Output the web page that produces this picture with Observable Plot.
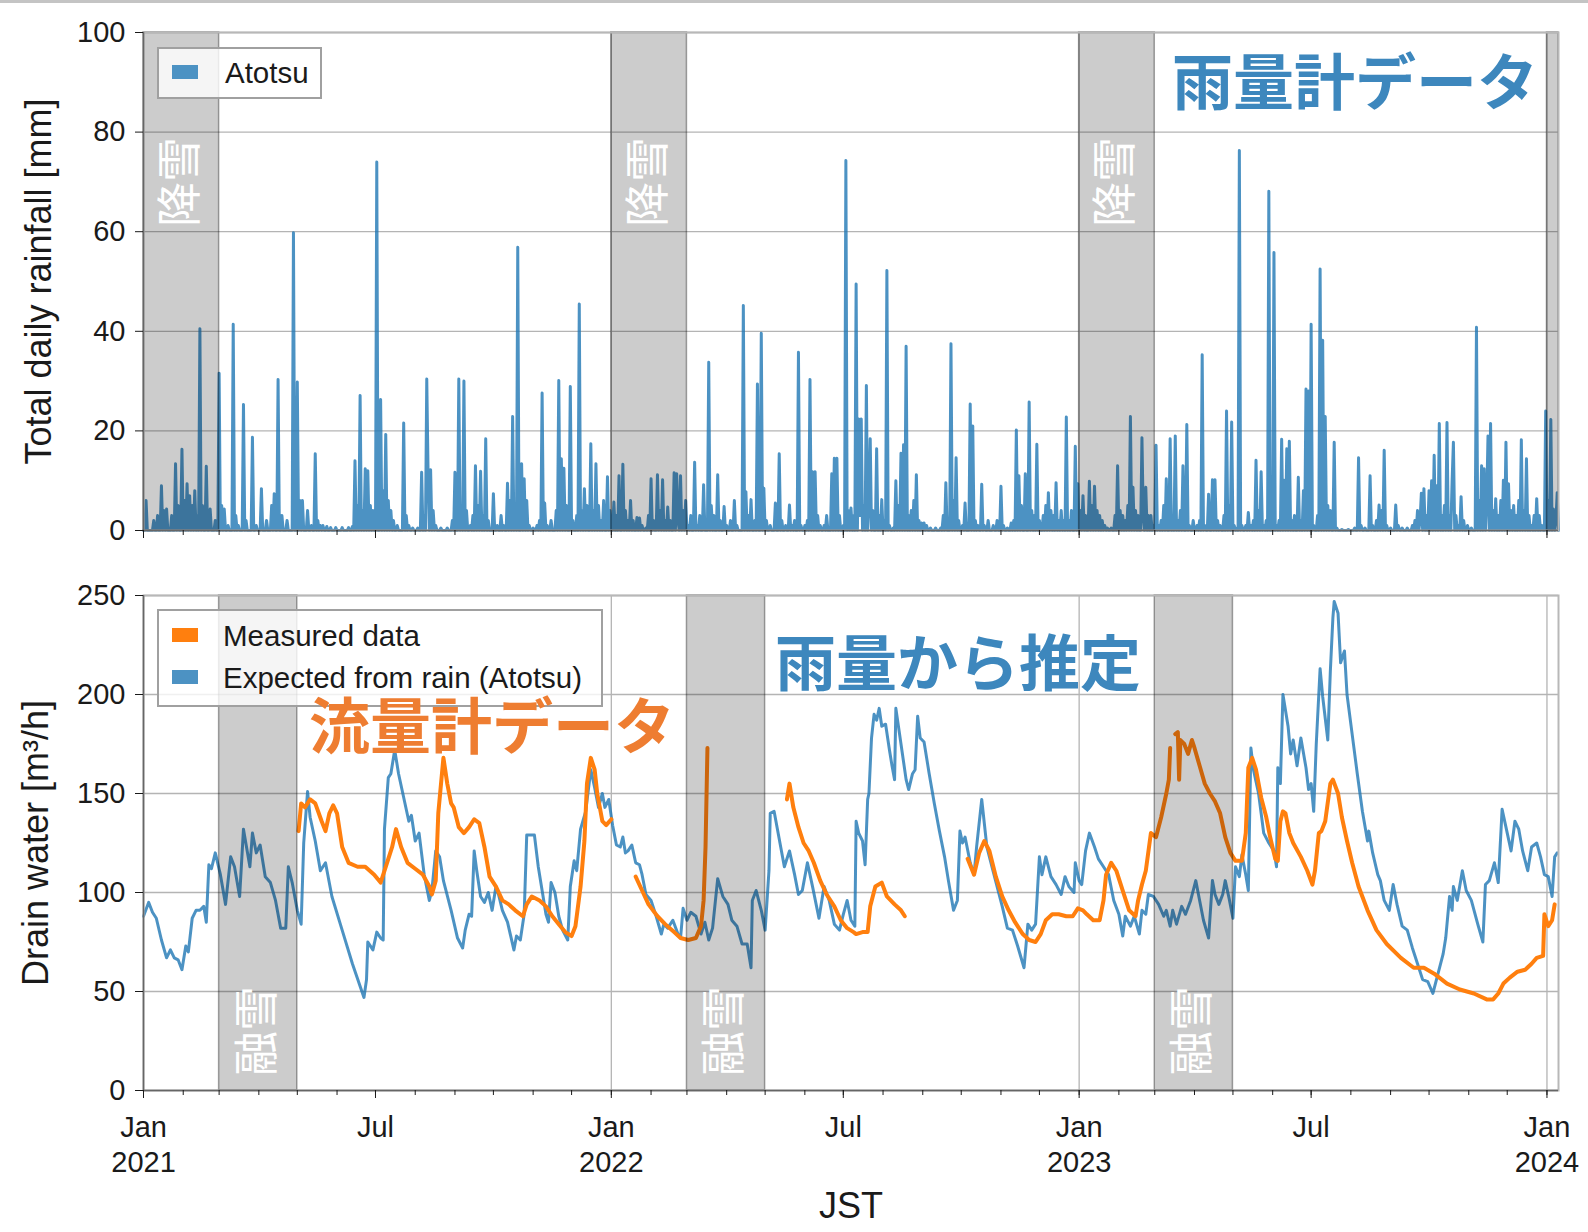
<!DOCTYPE html>
<html>
<head>
<meta charset="utf-8">
<script src="https://cdn.jsdelivr.net/npm/d3@7"></script>
<script src="https://cdn.jsdelivr.net/npm/@observablehq/plot@0.6"></script>
<style>
  html, body { margin: 0; padding: 0; background: #fff; }
  body { width: 1588px; height: 1232px; position: relative; overflow: hidden; font-family: "Liberation Sans", Arial, sans-serif; }
  #topstrip { position: absolute; left: 0; top: 0; width: 1588px; height: 3px; background: #c4c4c4; }
  #top, #bottom { position: absolute; left: 0; }
  #top { top: 0; }
  #bottom { top: 560px; }
  .legend { position: absolute; background: rgba(255,255,255,0.8); border: 2px solid #a0a0a0; box-sizing: border-box; font-size: 29.5px; color: #1a1a1a; }
  .legend .sw { position: absolute; width: 26px; height: 14px; }
  .legend .lb { position: absolute; white-space: nowrap; line-height: 1; }
  #overlay { position: absolute; left: 0; top: 0; pointer-events: none; }
</style>
</head>
<body>
<div id="topstrip"></div>
<div id="top"></div>
<div id="bottom"></div>

<div class="legend" style="left:157px;top:47px;width:165px;height:52px;">
  <div class="sw" style="left:13px;top:16px;background:#4c92c3;"></div>
  <div class="lb" style="left:66px;top:9px;">Atotsu</div>
</div>
<div class="legend" style="left:157px;top:609px;width:446px;height:98px;">
  <div class="sw" style="left:13px;top:17px;background:#ff7f0e;"></div>
  <div class="lb" style="left:64px;top:10px;">Measured data</div>
  <div class="sw" style="left:13px;top:59px;background:#4c92c3;"></div>
  <div class="lb" style="left:64px;top:52px;">Expected from rain (Atotsu)</div>
</div>

<svg id="overlay" width="1588" height="1232" xmlns="http://www.w3.org/2000/svg">
  <g font-family="'Noto Sans CJK JP', 'Noto Sans CJK SC', sans-serif" font-weight="700" font-size="61">
    <text x="1172" y="105" fill="#3d87bd">雨量計データ</text>
    <text x="775" y="686" fill="#3d87bd">雨量から推定</text>
    <text x="309" y="749" fill="#ee7d31">流量計データ</text>
  </g>
</svg>

<script>
// ---------------- DATA ----------------
// day offsets are counted from 2021-01-01 (JST)
const startDate = "2021-01-01";
const endDate = "2024-01-10";

// Total daily rainfall at Atotsu [mm] : [day offset, mm] (days not listed: no rain)
const rainfall = [
[2,6],[8,2],[11,3],[14,9],[16,4],[18,4.3],[22,3],[25,13.4],[27,5],[30,16.3],[32,6],[34,9.4],[36,7],[38,5],[40,8],[42,3],[44,40.5],[46,5],[49,12.9],[52,4.3],[56,2],[59,31.6],[61,5],[63,4.3],[66,1],[70,41.4],[72,3],[74,1],[78,25.3],[80,2],[85,18.7],[88,1],[92,8.4],[96,2],[100,5],[102,7.4],[105,30.3],[108,3],[112,2],[117,59.8],[120,29.8],[122,6],[124,6],[128,4],[131,1],[134,15.4],[136,2],[138,1],[140,1],[143,0.8],[146,0.6],[150,0.6],[155,0.6],[160,0.6],[163,0.8],[165,14],[167,5],[169,27.1],[171,4],[173,12.4],[175,12],[177,5],[179,4],[182,74],[185,26.3],[187,8],[189,19.3],[191,6],[193,4],[195,2],[198,1],[203,21.6],[205,3],[207,1],[210,0.5],[214,0.5],[217,11.7],[219,3],[221,30.4],[222,12],[224,12.2],[226,4],[228,1],[232,0.5],[237,0.5],[241,2],[243,11.7],[246,30.4],[248,5],[250,30],[252,4],[255,1],[257,3],[259,13],[261,5],[263,11.9],[265,3],[267,18.4],[269,2],[273,7.4],[276,1],
[279,3],[281,1],[284,9.5],[286,6],[288,22.9],[290,5],[292,56.9],[295,13.4],[297,10.4],[299,6],[301,1],[304,0.5],[307,1],[309,2],[311,27.6],[313,5.5],[315,1],[318,2],[322,4],[324,30.1],[326,14.4],[328,12.5],[330,5],[333,28.9],[335,2],[338,3],[340,45.5],[342,4],[344,8.4],[346,5],[349,17.4],[351,4],[353,13.4],[355,5],[357,2],[359,6],[362,10.8],[364,4],
[367,5.7],[369,3],[371,11],[374,13.3],[376,4],[378,2],[380,6],[382,2],[385,2.6],[387,2.5],[389,1],[392,0.5],[394,3],[396,10.4],[398,2],[401,11.2],[403,4],[405,10.2],[407,2],[409,4.7],[411,2],[414,11.6],[416,11.4],[417,2],[419,11],[421,4],[423,6],[425,1],
[427,3],[430,13.7],[432,1],[434,3],[437,9.2],[441,33.8],[443,5],[445,3],[448,11.2],[450,2],[453,4.8],[455,1],[458,2],[461,6],[463,1],[468,45.2],[470,7.8],[472,3],[474,6.2],[477,2],[479,29.4],[482,39.6],[484,8.5],[486,2],[489,1],[493,5.5],[496,15.4],[498,2],[501,1],[504,5.1],[506,1],[508,2],[511,35.8],[513,1],[516,1],[518,2],[520,30.3],[522,11.8],[524,11.8],[526,3],[528,1],[531,1],[533,3],[537,11.4],[539,14.5],[541,14.5],[543,3],[546,1],[548,74.3],[550,4],[552,4.5],[554,3],[556,49.5],[558,22.4],[559,3],
[560,22.4],[562,5],[564,29.1],[566,5],[567,18.4],[569,4],[572,16.4],[574,3],[576,6.2],[578,2],[580,52.2],[582,1],[585,0.5],[587,10],[589,5],[591,15.5],[593,17.2],[595,37],[597,3],[599,4],[601,6],[603,11.2],[605,2],[607,1.5],[609,1.5],[611,1],[614,0.5],[618,0.5],[622,0.5],[624,3],[626,9.6],[630,37.5],[632,6],[634,14.6],[636,2],[639,1],[641,5.5],[645,25.4],[647,21],[649,2],[651,1],[654,9.3],[656,1],[659,2],[663,1],[666,2],[669,8.9],[671,1],[674,0.5],[677,1.5],[679,2],[681,20.2],[683,11],[685,5],[688,11.4],[691,25.8],[693,4],[695,3],[697,17.3],[699,2],[702,3],[704,5],[706,7.6],[708,4],[710,3],[712,9.6],[714,2],[716,4],[718,2],[720,22.8],[722,2],[724,4],[727,16.9],[729,9.4],
[731,4],[733,7],[735,3],[738,9.9],[740,5],[742,8.9],[744,4],[746,3],[748,2],[750,1],[752,0.5],[755,0.5],[758,3],[760,13],[762,4],[764,3],[766,2],[768,5],[770,22.9],[772,8.7],[774,4],[776,3],[779,18.6],[780,3],[782,8.7],[784,3],[786,3],[788,1],
[790,17.1],[792,1],[794,2],[796,5],[798,10.4],[801,18.4],[803,3],[805,19],[807,2],[809,4],[811,13],[814,21.3],[816,1],[819,2],[822,1],[824,2],[826,35.3],[828,1],[831,7.3],[834,10.2],[836,10.2],[838,2],
[840,1],[843,3],[845,24],[847,5],[849,21.8],[851,1],[853,0.5],[855,76.3],[857,1],[860,1],[862,3.6],[864,1],[866,2],[868,14.1],[870,4],[872,11.8],[874,1],[876,2],[878,68.1],[880,3],[882,55.8],[884,1],[886,2],[888,18.3],[890,10.1],[892,16.4],[894,17.9],[896,2],[898,3],[901,10.7],[903,2],[905,8],[907,28.4],[909,28],[911,41.4],[913,1],[916,3],[918,52.5],[920,38.2],[922,22.9],[924,5],[926,4],[929,17.7],[931,0.5],[935,0.2],[940,0.2],[945,0.5],[948,14.6],[950,1],[953,0.5],[957,11],[959,1],[962,2],[964,5.1],[966,4],[968,16.1],[970,1],[973,0.5],[977,5.1],[979,1],[982,0.5],[986,0.5],[990,1],[992,2],[994,4],[996,2],[997,7.5],[999,8.4],[1001,3],[1003,8],[1005,10],[1007,15.1],[1009,9],[1011,21.5],[1013,3],[1015,5],[1017,21.7],[1019,3],[1021,10],[1022,17.7],[1024,3],[1026,1],[1028,6.8],[1030,2],[1033,1],[1036,0.5],[1040,40.8],[1042,6],[1044,13],[1046,12.4],[1048,6],[1049,19],[1051,21.5],[1053,4],[1055,6.4],[1057,3],[1059,6],[1061,10.1],[1063,17.7],[1065,9.4],[1067,4],[1069,5],[1071,3],[1073,6],[1075,18.2],[1077,4],[1079,14.4],[1081,3],[1083,1],[1085,3],[1087,6.4],[1089,3],[1091,1],[1094,24],[1096,6],[1098,22.3],[1100,4.3],[1102,2],[1103,7.6]
];

// Drain water expected from rain (Atotsu) [m3/h] : [day offset, value]
const expected = [
[0,88],[4,95],[7,90],[10,87],[14,76],[18,67],[21,71],[24,67],[27,66],[30,61],[33,73],[35,70],[38,87],[41,91],[44,91],[47,93],[49,85],[51,114],[53,112],[56,120],[60,109],[64,94],[68,118],[71,113],[75,98],[78,132],[83,113],[85,130],[88,120],[91,124],[95,108],[99,105],[103,96],[107,82],[111,82],[113,113],[116,105],[120,91],[123,84],[125,125],[128,151],[130,138],[134,126],[138,111],[142,115],[147,98],[155,81],[163,64],[172,47],[174,56],[175,75],[179,71],[182,80],[185,77],[187,76],[188,132],[191,158],[193,160],[196,172],[199,160],[203,148],[207,136],[209,139],[212,126],[215,130],[219,109],[223,96],[225,101],[228,121],[231,118],[234,106],[240,91],[245,77],[249,72],[251,81],[254,89],[256,88],[258,121],[260,111],[263,98],[266,95],[269,100],[272,91],[275,103],[277,99],[280,91],[284,85],[289,71],[291,78],[294,76],[297,89],[299,129],[305,129],[308,113],[314,89],[316,85],[318,105],[321,100],[324,88],[327,81],[331,76],[333,103],[336,116],[338,111],[341,132],[345,141],[349,162],[352,153],[355,143],[358,150],[360,143],[363,147],[366,134],[369,124],[372,123],[374,128],[376,120],[378,121],[381,124],[384,115],[387,114],[389,109],[392,99],[396,96],[400,88],[404,79],[406,84],[409,82],[413,86],[417,79],[419,77],[421,92],[424,86],[427,90],[431,88],[435,79],[438,85],[441,76],[444,82],[448,107],[452,98],[456,94],[459,86],[463,83],[467,74],[471,74],[474,62],[475,96],[478,101],[482,91],[485,81],[488,111],[489,140],[492,141],[496,127],[500,113],[504,121],[508,109],[511,99],[514,101],[518,115],[522,103],[527,87],[531,103],[535,96],[539,84],[543,81],[546,89],[549,96],[552,86],[555,83],[556,136],[558,130],[561,126],[563,114],[565,147],[566,150],[568,178],[570,190],[572,187],[574,193],[576,184],[579,185],[582,172],[584,164],[586,157],[587,193],[591,175],[595,157],[597,152],[600,160],[602,162],[604,189],[606,178],[609,176],[613,160],[617,145],[621,131],[625,118],[628,106],[632,91],[635,96],[637,131],[639,125],[641,128],[645,115],[648,109],[650,123],[654,147],[656,135],[658,123],[662,113],[666,103],[670,93],[674,82],[678,81],[682,73],[687,62],[690,84],[693,81],[696,84],[699,118],[701,109],[704,118],[708,108],[712,104],[716,99],[719,108],[722,103],[726,100],[727,115],[730,106],[732,104],[735,121],[738,130],[742,123],[745,117],[749,113],[753,109],[757,96],[761,89],[764,78],[766,88],[770,83],[773,88],[777,79],[779,91],[782,89],[784,99],[788,98],[792,94],[796,88],[798,91],[801,83],[803,91],[806,84],[810,93],[813,89],[817,96],[821,106],[824,96],[827,86],[831,77],[834,106],[836,99],[839,94],[842,99],[844,106],[847,97],[850,87],[852,113],[855,108],[857,119],[860,109],[862,101],[864,173],[866,162],[870,150],[874,130],[878,125],[882,121],[884,113],[885,163],[887,155],[889,200],[893,184],[895,170],[897,177],[900,164],[903,178],[907,163],[909,152],[911,155],[913,141],[915,175],[918,213],[920,199],[924,177],[926,212],[928,239],[929,247],[932,241],[934,216],[937,222],[939,200],[943,180],[947,160],[951,141],[955,126],[956,131],[959,120],[963,109],[965,106],[968,96],[972,91],[975,104],[978,94],[982,83],[986,81],[990,72],[994,64],[998,56],[1002,55],[1006,49],[1010,59],[1014,69],[1016,77],[1019,98],[1021,91],[1022,103],[1025,96],[1029,111],[1032,101],[1036,96],[1041,84],[1045,75],[1047,104],[1050,106],[1054,115],[1057,105],[1060,142],[1063,133],[1067,121],[1070,136],[1073,132],[1076,121],[1080,111],[1083,123],[1087,125],[1090,118],[1093,109],[1096,108],[1099,98],[1101,118],[1103,120]
];

// Measured drain water (flow meter) [m3/h], separate recorded periods
const measured1 = [[121,131],[123,145],[126,143],[130,147],[134,145],[139,136],[142,131],[145,140],[148,144],[151,140],[155,123],[160,115],[167,113],[173,113],[180,109],[185,105],[189,113],[194,123],[197,132],[201,123],[206,115],[212,112],[218,109],[223,103],[225,99],[228,106],[230,140],[234,168],[237,155],[240,145],[242,143],[246,133],[250,130],[254,133],[258,137],[262,135],[266,123],[270,108],[275,103],[280,96],[285,94],[290,91],[296,88],[299,94],[303,98],[309,96],[314,93],[319,88],[324,84],[329,80],[334,78],[337,83],[341,103],[344,126],[346,155],[349,168],[352,162],[354,150],[358,136],[361,134],[365,137]];
const measured2 = [[384,108],[389,101],[394,94],[401,88],[407,84],[414,80],[419,77],[425,76],[431,77],[435,83],[437,96],[438.5,123],[440,173]];
const measured3 = [[502,147],[504,155],[507,143],[511,133],[515,125],[519,121],[523,115],[528,106],[533,99],[539,93],[544,86],[549,82],[554,80],[556,79],[561,80],[565,80],[567,93],[571,103],[576,105],[580,98],[586,94],[591,91],[594,88]];
const measured4 = [[643,117],[648,109],[652,120],[656,126],[660,121],[665,108],[670,98],[675,91],[680,85],[686,79],[691,76],[696,75],[700,79],[704,86],[709,89],[714,89],[720,88],[725,88],[729,92],[733,91],[736,89],[741,86],[746,86],[749,96],[751,109],[755,115],[759,111],[764,101],[769,91],[774,88],[776,96],[779,104],[782,111],[786,130],[790,128],[794,138],[798,150],[800,157],[801,173]];
const measured5 = [[805,180],[807,181],[808,157],[809,177],[812,175],[815,170],[818,177],[820,173],[824,164],[828,155],[832,150],[836,146],[840,140],[844,128],[848,120],[852,116],[857,116],[860,130],[862,163],[865,168],[868,162],[872,148],[876,138],[879,128],[883,117],[885,116],[887,136],[889,141],[891,140],[894,130],[897,125],[903,118],[908,111],[912,104],[914,111],[917,130],[919,131],[922,136],[926,155],[928,157],[932,150],[935,138],[939,126],[943,115],[948,103],[955,91],[962,81],[970,74],[981,67],[991,62],[999,62],[1007,59],[1017,54],[1027,51],[1038,49],[1048,46],[1053,46],[1057,49],[1061,54],[1066,57],[1072,60],[1078,61],[1083,64],[1087,67],[1092,68],[1093,89],[1096,83],[1099,86],[1101,94]];

// shaded periods
const snowfallLabel = "降雪";
const snowfallStart = ["2021-01-01","2022-01-01","2023-01-01","2024-01-01"];
const snowfallEnd   = ["2021-03-01","2022-03-01","2023-03-01","2024-01-10"];
const snowmeltLabel = "融雪";
const snowmeltStart = ["2021-03-01","2022-03-01","2023-03-01"];
const snowmeltEnd   = ["2021-05-01","2022-05-01","2023-05-01"];

// ticks
const rainTicks = [0,20,40,60,80,100];
const drainTicks = [0,50,100,150,200,250];
const yearTicks = ["2021-01-01","2022-01-01","2023-01-01","2024-01-01"];
const halfYearTicks = ["2021-01-01","2021-07-01","2022-01-01","2022-07-01","2023-01-01","2023-07-01","2024-01-01"];

// labels
const rainLabel = "Total daily rainfall [mm]";
const drainLabel = "Drain water [m³/h]";
const timeLabel = "JST";

// ---------------- BUILD ----------------
const T0 = Date.parse(startDate + "T00:00:00Z");
const day = d => new Date(T0 + d * 864e5);
const toDate = s => new Date(s + "T00:00:00Z");
const xDomain = [toDate(startDate), toDate(endDate)];
const nDays = Math.round((xDomain[1] - xDomain[0]) / 864e5) + 1;

const rainDaily = Array.from({length: nDays}, (_, i) => ({date: day(i), mm: 0}));
for (const [d, v] of rainfall) {
  const i = Math.round(d);
  if (i >= 0 && i < nDays) rainDaily[i].mm = Math.max(rainDaily[i].mm, v);
}
const expectedRows = expected.map(([d, v]) => ({date: day(d), v}));
const measuredRows = [measured1, measured2, measured3, measured4, measured5]
  .flatMap((seg, k) => seg.map(([d, v]) => ({date: day(d), v, seg: k})));

const snowfall = snowfallStart.map((s, i) => {
  const a = toDate(s), b = toDate(snowfallEnd[i]);
  return {start: a, end: b, mid: new Date((+a + +b) / 2), label: (b - a) > 30 * 864e5 ? snowfallLabel : ""};
});
const snowmelt = snowmeltStart.map((s, i) => {
  const a = toDate(s), b = toDate(snowmeltEnd[i]);
  return {start: a, end: b, mid: new Date((+a + +b) / 2), label: snowmeltLabel};
});

const monthTicks = d3.utcMonth.range(xDomain[0], d3.utcDay.offset(xDomain[1], 1));
const yearDates = yearTicks.map(toDate);
const halfDates = halfYearTicks.map(toDate);

const tickFont = "Liberation Sans, Arial, sans-serif";
const cjkFont = "Noto Sans CJK JP, Noto Sans CJK SC, sans-serif";
const gridColor = "#b4b4b4";
const blue = "#1f77b4";
const orange = "#ff7f0e";
const W = 1588;
const mL = 143, mR = 30;

function commonX(showLabels) {
  return [
    Plot.axisX({ticks: monthTicks, tickSize: 5, tickFormat: () => "", label: null}),
    Plot.axisX({ticks: halfDates, tickSize: 8, tickPadding: 14, lineHeight: 1.2, fontSize: 29,
      tickFormat: showLabels ? (d => d.getUTCMonth() === 0 ? `Jan\n${d.getUTCFullYear()}` : "Jul") : (() => ""),
      label: null})
  ];
}

const topChart = Plot.plot({
  width: W, height: 560,
  marginLeft: mL, marginRight: mR, marginTop: 32, marginBottom: 30,
  x: {type: "utc", domain: xDomain},
  y: {domain: [0, 100]},
  style: {fontFamily: tickFont, fontSize: "29px", color: "#1a1a1a", background: "transparent"},
  marks: [
    Plot.gridY(rainTicks, {stroke: gridColor, strokeOpacity: 1, strokeWidth: 1.3}),
    Plot.gridX(yearDates, {stroke: gridColor, strokeOpacity: 1, strokeWidth: 1.3}),
    Plot.lineY(rainDaily, {x: "date", y: "mm", stroke: blue, strokeOpacity: 0.8, strokeWidth: 3, strokeLinejoin: "round"}),
    Plot.rect(snowfall, {x1: "start", x2: "end", fill: "black", fillOpacity: 0.2, stroke: "black", strokeOpacity: 0.35, strokeWidth: 1.5}),
    Plot.text(snowfall, {x: "mid", y: () => 70, text: "label", rotate: -90, fill: "white",
      fontSize: 45, fontFamily: cjkFont, fontWeight: 400}),
    Plot.frame({stroke: "#b8b8b8", strokeWidth: 2}),
    Plot.ruleX([xDomain[0]], {stroke: "#666", strokeWidth: 1.5}),
    Plot.ruleY([0], {stroke: "#666", strokeWidth: 1.5}),
    Plot.axisY({ticks: rainTicks, tickSize: 8, tickPadding: 10, fontSize: 29, label: null}),
    ...commonX(false),
    Plot.text([rainLabel], {frameAnchor: "left", textAnchor: "middle", lineAnchor: "middle", dx: -104.5, rotate: -90,
      fontSize: 36, fontFamily: tickFont, fill: "#1a1a1a"})
  ]
});
document.getElementById("top").appendChild(topChart);

const bottomChart = Plot.plot({
  width: W, height: 672,
  marginLeft: mL, marginRight: mR, marginTop: 35, marginBottom: 142,
  x: {type: "utc", domain: xDomain},
  y: {domain: [0, 250]},
  style: {fontFamily: tickFont, fontSize: "29px", color: "#1a1a1a", background: "transparent"},
  marks: [
    Plot.gridY(drainTicks, {stroke: gridColor, strokeOpacity: 1, strokeWidth: 1.3}),
    Plot.gridX(yearDates, {stroke: gridColor, strokeOpacity: 1, strokeWidth: 1.3}),
    Plot.lineY(expectedRows, {x: "date", y: "v", stroke: blue, strokeOpacity: 0.8, strokeWidth: 3, strokeLinejoin: "round"}),
    Plot.lineY(measuredRows, {x: "date", y: "v", z: "seg", stroke: orange, strokeWidth: 4, strokeLinejoin: "round"}),
    Plot.rect(snowmelt, {x1: "start", x2: "end", fill: "black", fillOpacity: 0.2, stroke: "black", strokeOpacity: 0.35, strokeWidth: 1.5}),
    Plot.text(snowmelt, {x: "mid", y: () => 30, text: "label", rotate: -90, fill: "white",
      fontSize: 45, fontFamily: cjkFont, fontWeight: 400}),
    Plot.frame({stroke: "#b8b8b8", strokeWidth: 2}),
    Plot.ruleX([xDomain[0]], {stroke: "#666", strokeWidth: 1.5}),
    Plot.ruleY([0], {stroke: "#666", strokeWidth: 1.5}),
    Plot.axisY({ticks: drainTicks, tickSize: 8, tickPadding: 10, fontSize: 29, label: null}),
    ...commonX(true),
    Plot.text([drainLabel], {frameAnchor: "left", textAnchor: "middle", lineAnchor: "middle", dx: -107, rotate: -90,
      fontSize: 36, fontFamily: tickFont, fill: "#1a1a1a"}),
    Plot.text([timeLabel], {frameAnchor: "bottom", dy: 127, fontSize: 36, fontFamily: tickFont, fill: "#1a1a1a"})
  ]
});
document.getElementById("bottom").appendChild(bottomChart);
</script>
</body>
</html>
